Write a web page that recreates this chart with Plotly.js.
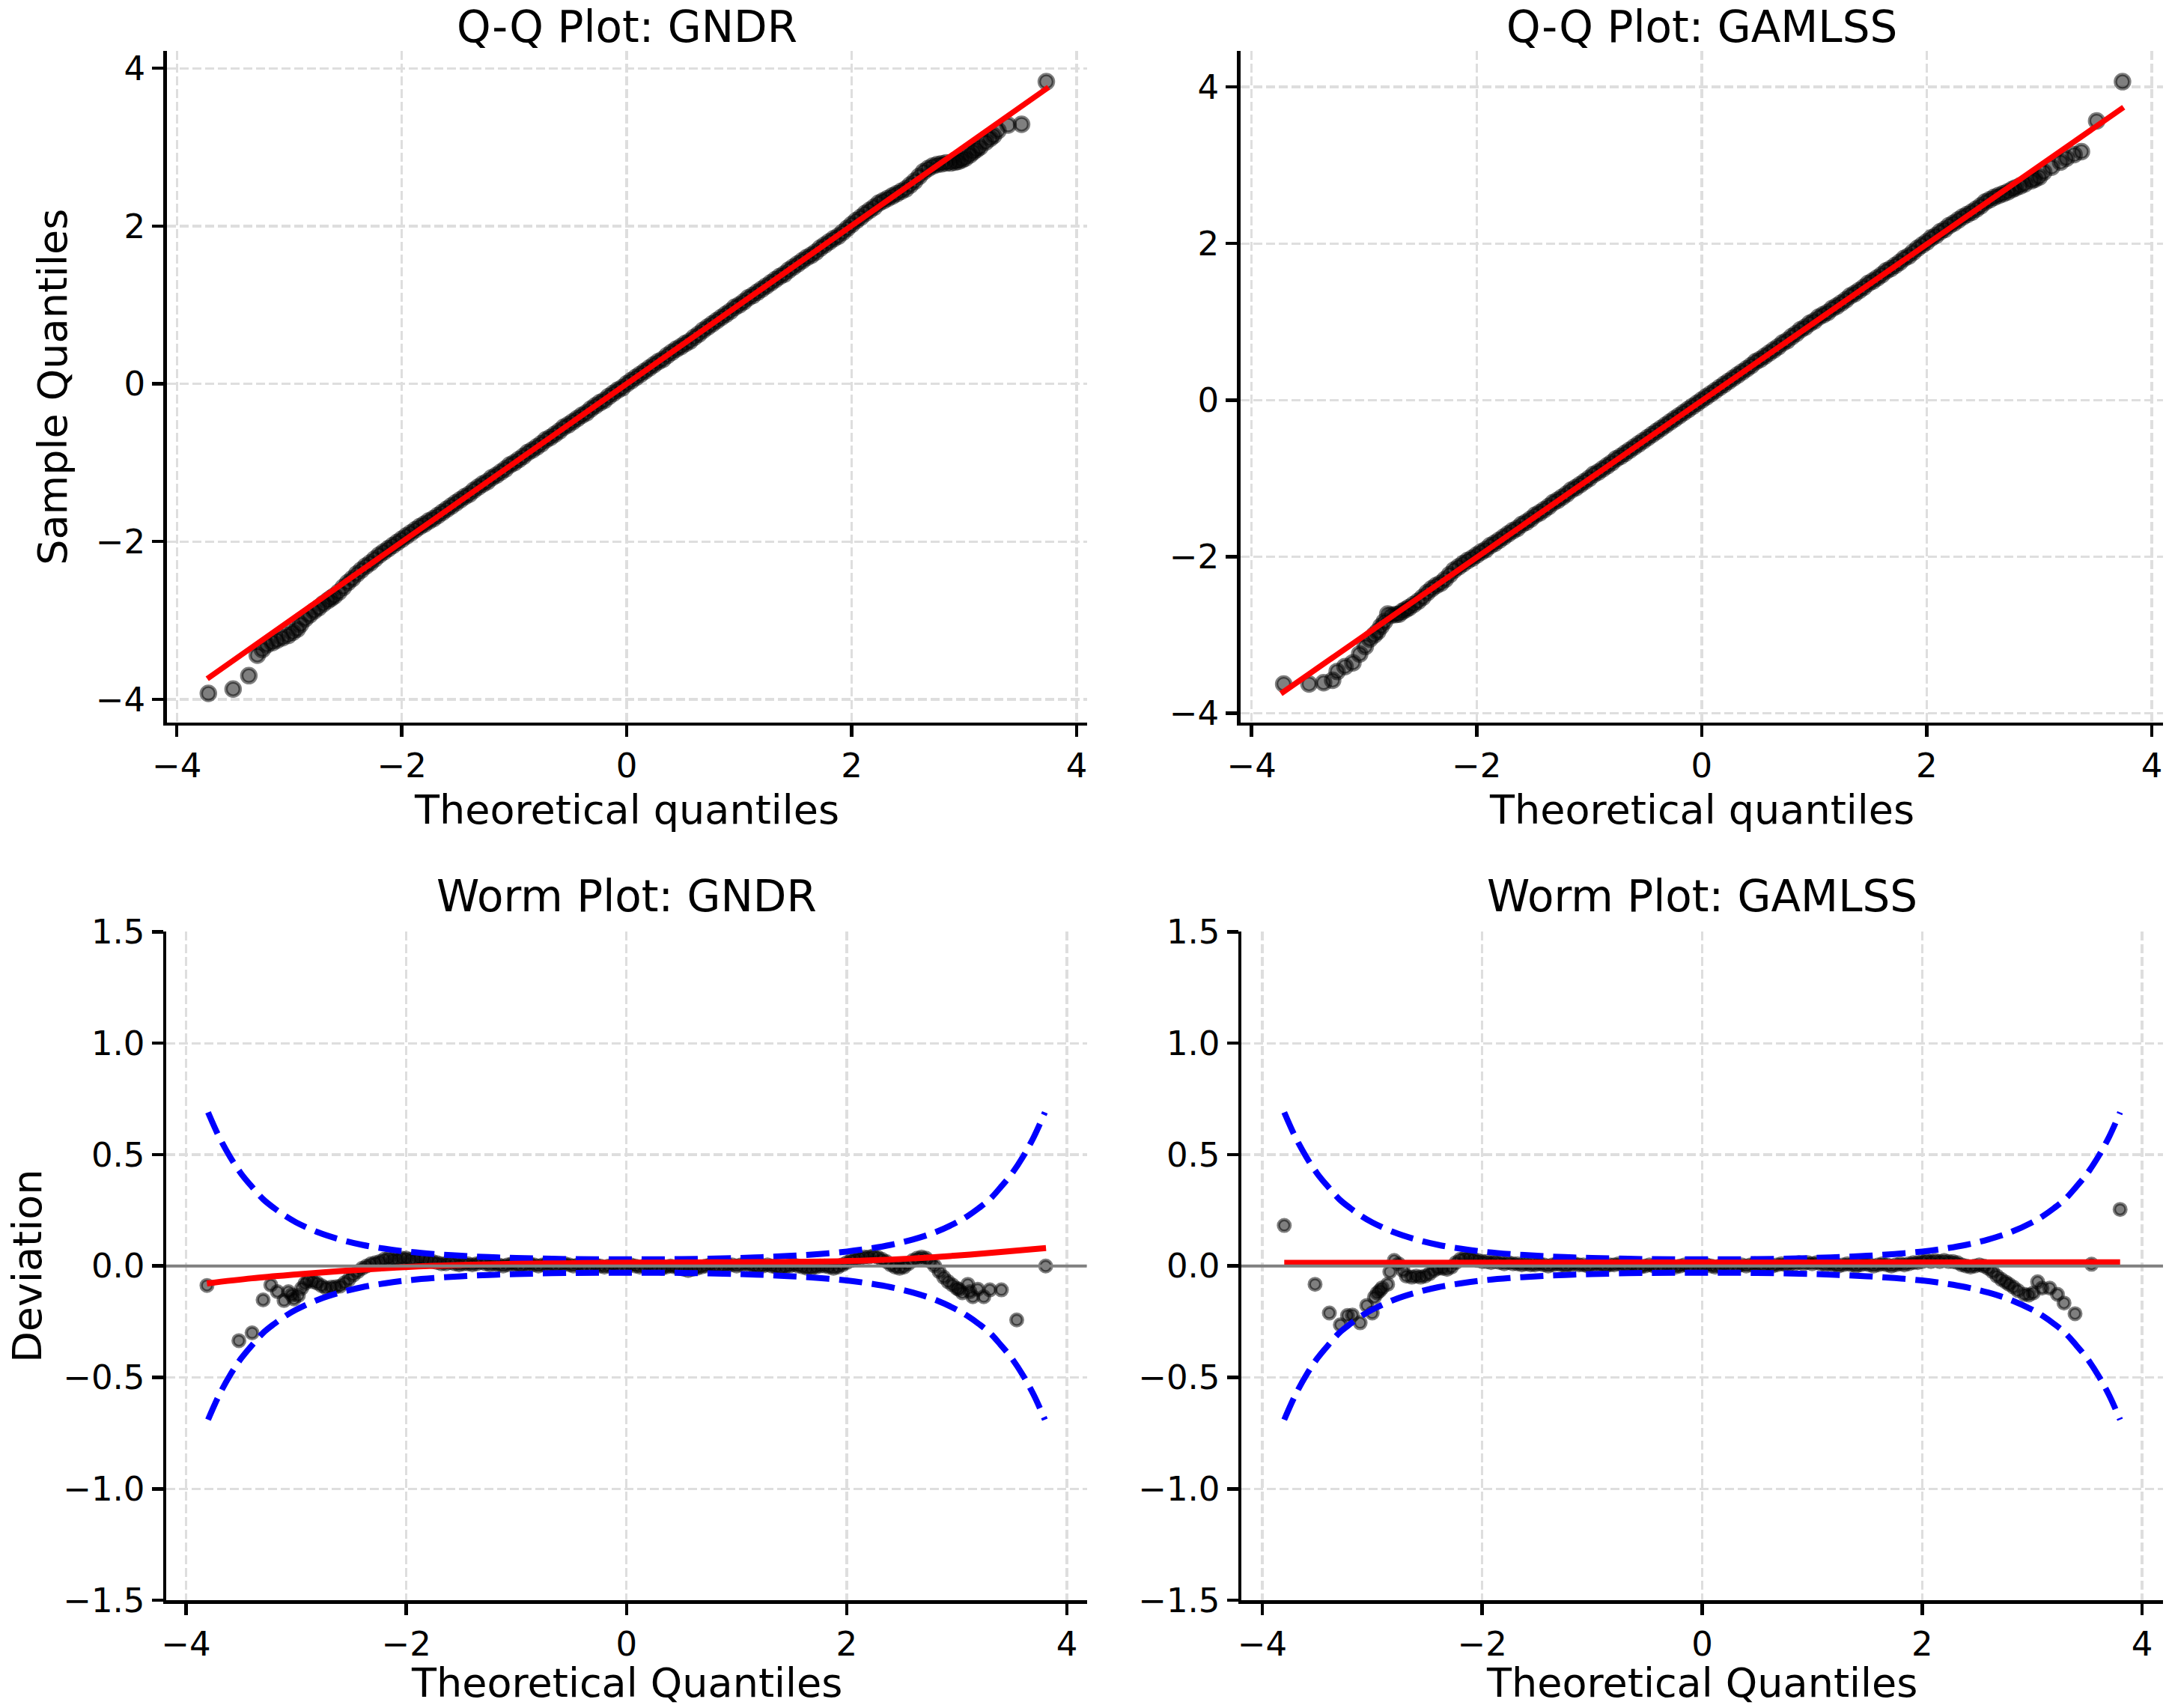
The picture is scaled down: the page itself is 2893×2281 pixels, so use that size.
<!DOCTYPE html>
<html>
<head>
<meta charset="utf-8">
<script src="https://cdn.plot.ly/plotly-3.0.1.min.js"></script>
<style>
  html, body { margin: 0; padding: 0; background: #fff; }
  #chart { width: 2893px; height: 2281px; }
</style>
</head>
<body>
<div id="chart"></div>
<script>
// Theoretical quantiles sampled through the dense central part of each plot
const bodyQ = [
  -2.60,-2.56,-2.52,-2.48,-2.44,-2.40,-2.36,-2.32,-2.28,-2.24,
  -2.20,-2.16,-2.12,-2.08,-2.04,-2.00,-1.96,-1.92,-1.88,-1.84,
  -1.80,-1.76,-1.72,-1.68,-1.64,-1.60,-1.56,-1.52,-1.48,-1.44,
  -1.40,-1.36,-1.32,-1.28,-1.24,-1.20,-1.16,-1.12,-1.08,-1.04,
  -1.00,-0.96,-0.92,-0.88,-0.84,-0.80,-0.76,-0.72,-0.68,-0.64,
  -0.60,-0.56,-0.52,-0.48,-0.44,-0.40,-0.36,-0.32,-0.28,-0.24,
  -0.20,-0.16,-0.12,-0.08,-0.04,0.00,0.04,0.08,0.12,0.16,
  0.20,0.24,0.28,0.32,0.36,0.40,0.44,0.48,0.52,0.56,
  0.60,0.64,0.68,0.72,0.76,0.80,0.84,0.88,0.92,0.96,
  1.00,1.04,1.08,1.12,1.16,1.20,1.24,1.28,1.32,1.36,
  1.40,1.44,1.48,1.52,1.56,1.60,1.64,1.68,1.72,1.76,
  1.80,1.84,1.88,1.92,1.96,2.00,2.04,2.08,2.12,2.16,
  2.20,2.24,2.28,2.32,2.36,2.40,2.44,2.48,2.52,2.56,
  2.60
];

// ---- Q-Q plot: GNDR ----
const qqGndrBodyY = [
  -2.69,-2.64,-2.58,-2.52,-2.47,-2.41,-2.36,-2.31,-2.27,-2.22,
  -2.17,-2.13,-2.09,-2.05,-2.01,-1.97,-1.93,-1.89,-1.85,-1.81,
  -1.78,-1.74,-1.71,-1.67,-1.63,-1.59,-1.55,-1.51,-1.47,-1.43,
  -1.40,-1.35,-1.31,-1.27,-1.24,-1.19,-1.16,-1.12,-1.08,-1.03,
  -1.00,-0.96,-0.92,-0.87,-0.84,-0.80,-0.76,-0.71,-0.68,-0.64,
  -0.60,-0.55,-0.52,-0.48,-0.44,-0.40,-0.37,-0.32,-0.28,-0.24,
  -0.21,-0.16,-0.12,-0.08,-0.05,0.00,0.04,0.08,0.12,0.16,
  0.20,0.24,0.28,0.31,0.36,0.40,0.44,0.47,0.51,0.54,
  0.59,0.63,0.68,0.72,0.76,0.80,0.84,0.88,0.92,0.97,
  1.00,1.04,1.09,1.12,1.16,1.20,1.24,1.28,1.32,1.36,
  1.39,1.44,1.48,1.52,1.56,1.60,1.63,1.67,1.72,1.76,
  1.80,1.84,1.87,1.92,1.97,2.02,2.07,2.11,2.16,2.20,
  2.24,2.29,2.32,2.35,2.38,2.41,2.44,2.47,2.52,2.57,
  2.63
];
const qqGndrLeftX  = [-3.72,-3.50,-3.36,-3.285,-3.24,-3.20,-3.15,-3.11,-3.06,-3.01,-2.97,-2.93,-2.90,-2.86,-2.82,-2.78,-2.74,-2.70,-2.66,-2.63];
const qqGndrLeftY  = [-3.925,-3.87,-3.70,-3.44,-3.37,-3.31,-3.28,-3.25,-3.22,-3.19,-3.15,-3.11,-3.05,-2.98,-2.93,-2.88,-2.84,-2.79,-2.75,-2.72];
const qqGndrRightX = [2.64,2.68,2.72,2.76,2.80,2.84,2.88,2.92,2.95,2.98,3.01,3.05,3.08,3.11,3.14,3.19,3.23,3.26,3.30,3.39,3.51,3.73];
const qqGndrRightY = [2.69,2.73,2.76,2.78,2.79,2.80,2.80,2.81,2.82,2.84,2.86,2.90,2.94,2.97,3.00,3.065,3.11,3.145,3.21,3.28,3.29,3.83];
const qqGndrLineX  = [-3.73, 3.75];
const qqGndrLineY  = [-3.74, 3.76];

// ---- Q-Q plot: GAMLSS ----
const qqGamlssBodyY = [
  -2.65,-2.61,-2.57,-2.52,-2.46,-2.41,-2.37,-2.34,-2.29,-2.23,
  -2.17,-2.13,-2.09,-2.05,-2.02,-1.98,-1.94,-1.91,-1.86,-1.83,
  -1.79,-1.75,-1.71,-1.67,-1.64,-1.59,-1.56,-1.52,-1.47,-1.44,
  -1.40,-1.36,-1.31,-1.28,-1.24,-1.20,-1.15,-1.12,-1.08,-1.04,
  -1.00,-0.95,-0.92,-0.88,-0.84,-0.80,-0.75,-0.72,-0.68,-0.64,
  -0.60,-0.56,-0.52,-0.48,-0.44,-0.40,-0.36,-0.32,-0.28,-0.24,
  -0.20,-0.16,-0.12,-0.08,-0.04,0.00,0.04,0.08,0.12,0.16,
  0.20,0.24,0.28,0.32,0.36,0.40,0.44,0.49,0.52,0.56,
  0.60,0.64,0.68,0.73,0.76,0.81,0.85,0.90,0.93,0.98,
  1.01,1.06,1.09,1.12,1.17,1.20,1.24,1.28,1.33,1.36,
  1.40,1.44,1.49,1.52,1.56,1.60,1.65,1.68,1.72,1.76,
  1.81,1.84,1.89,1.94,1.98,2.02,2.07,2.10,2.15,2.18,
  2.23,2.26,2.30,2.34,2.37,2.40,2.44,2.48,2.53,2.56,
  2.59
];
const qqGamlssLeftX  = [-3.715,-3.49,-3.36,-3.28,-3.24,-3.17,-3.10,-3.04,-2.99,-2.95,-2.91,-2.88,-2.85,-2.82,-2.79,-2.76,-2.72,-2.69,-2.66,-2.63];
const qqGamlssLeftY  = [-3.627,-3.627,-3.611,-3.579,-3.468,-3.404,-3.356,-3.244,-3.148,-3.053,-3.00,-2.957,-2.89,-2.83,-2.734,-2.75,-2.74,-2.735,-2.70,-2.675];
const qqGamlssRightX = [2.64,2.68,2.72,2.76,2.79,2.83,2.87,2.93,2.96,3.00,3.04,3.11,3.19,3.24,3.31,3.375,3.51,3.74];
const qqGamlssRightY = [2.615,2.635,2.66,2.69,2.71,2.735,2.76,2.80,2.82,2.848,2.912,2.976,3.039,3.087,3.135,3.173,3.566,4.067];
const qqGamlssLineX  = [-3.74, 3.75];
const qqGamlssLineY  = [-3.75, 3.74];

// ---- Worm plot: GNDR (deviation = sample - theoretical) ----
const wormGndrBodyY = [
  -0.09,-0.075,-0.06,-0.04,-0.025,-0.01,0.0,0.01,0.015,0.02,
  0.03,0.035,0.03,0.03,0.035,0.035,0.03,0.03,0.035,0.03,
  0.025,0.02,0.015,0.01,0.01,0.015,0.01,0.005,0.01,0.01,
  0.005,0.01,0.015,0.01,0.005,0.01,0.005,0.0,0.005,0.01,
  0.005,0.0,0.005,0.01,0.005,0.0,0.005,0.01,0.005,0.0,
  0.005,0.01,0.005,0.0,0.005,0.0,-0.005,0.0,0.005,0.0,
  -0.005,0.0,0.005,0.0,-0.005,0.0,0.005,0.0,-0.005,0.0,
  0.005,0.0,-0.005,-0.01,-0.005,0.0,-0.005,-0.01,-0.015,-0.02,
  -0.015,-0.01,-0.005,0.0,0.005,0.0,-0.005,0.0,0.005,0.005,
  0.0,0.005,0.01,0.005,0.0,-0.005,0.0,0.005,0.0,-0.005,
  -0.01,-0.005,0.0,0.005,0.0,-0.005,-0.01,-0.01,-0.005,0.0,
  0.0,-0.005,-0.01,-0.005,0.005,0.015,0.025,0.03,0.035,0.04,
  0.04,0.045,0.04,0.03,0.02,0.005,-0.005,-0.01,-0.005,0.01,
  0.025
];
const wormGndrLeftX  = [-3.81,-3.52,-3.40,-3.30,-3.23,-3.17,-3.11,-3.07,-3.04,-3.02,-2.98,-2.95,-2.92,-2.89,-2.85,-2.81,-2.77,-2.73,-2.68,-2.64];
const wormGndrLeftY  = [-0.087,-0.335,-0.30,-0.152,-0.085,-0.115,-0.155,-0.115,-0.13,-0.148,-0.132,-0.10,-0.078,-0.065,-0.07,-0.076,-0.088,-0.098,-0.095,-0.093];
const wormGndrRightX = [2.64,2.68,2.72,2.76,2.80,2.84,2.88,2.92,2.96,3.00,3.02,3.05,3.10,3.12,3.145,3.19,3.245,3.30,3.405,3.544,3.807];
const wormGndrRightY = [0.035,0.04,0.035,0.02,0.0,-0.025,-0.05,-0.07,-0.085,-0.10,-0.105,-0.12,-0.082,-0.115,-0.138,-0.104,-0.138,-0.107,-0.107,-0.242,0.0];
const wormGndrFitX = [-3.81,-3.4,-3.0,-2.6,-2.2,-1.8,-1.4,-1.0,-0.6,-0.2,0.2,0.6,1.0,1.4,1.8,2.2,2.6,3.0,3.4,3.81];
const wormGndrFitY = [-0.078,-0.055,-0.038,-0.023,-0.01,0.0,0.006,0.01,0.012,0.014,0.015,0.016,0.017,0.018,0.02,0.025,0.034,0.047,0.063,0.081];

// ---- Worm plot: GAMLSS ----
const wormGamlssBodyY = [
  -0.045,-0.05,-0.045,-0.035,-0.02,-0.01,-0.01,-0.015,-0.005,0.015,
  0.03,0.035,0.035,0.03,0.025,0.02,0.02,0.015,0.02,0.015,
  0.01,0.015,0.01,0.01,0.005,0.01,0.005,0.005,0.01,0.005,
  0.0,0.005,0.01,0.005,0.0,0.005,0.01,0.005,0.005,0.0,
  0.005,0.01,0.005,0.0,0.005,0.005,0.01,0.005,0.0,0.005,
  0.0,-0.005,0.0,0.005,0.0,-0.005,0.0,0.005,0.0,-0.005,
  0.0,0.005,0.0,-0.005,0.0,0.0,0.005,0.0,-0.005,0.0,
  0.005,0.0,-0.005,0.0,0.005,0.0,0.005,0.01,0.005,0.0,
  0.005,0.0,0.005,0.01,0.005,0.01,0.01,0.015,0.01,0.015,
  0.01,0.015,0.01,0.005,0.01,0.005,0.0,0.005,0.01,0.005,
  0.0,0.005,0.01,0.005,0.0,0.005,0.01,0.005,0.0,0.005,
  0.01,0.005,0.01,0.015,0.015,0.02,0.025,0.02,0.025,0.02,
  0.025,0.02,0.02,0.015,0.005,0.0,-0.005,0.0,0.005,0.0,
  -0.01
];
const wormGamlssLeftX  = [-3.80,-3.52,-3.39,-3.29,-3.225,-3.18,-3.11,-3.05,-3.00,-2.98,-2.955,-2.93,-2.91,-2.86,-2.84,-2.80,-2.76,-2.72,-2.69,-2.64];
const wormGamlssLeftY  = [0.182,-0.082,-0.211,-0.264,-0.222,-0.22,-0.255,-0.177,-0.211,-0.14,-0.121,-0.11,-0.098,-0.082,-0.026,0.025,0.01,-0.02,-0.045,-0.05];
const wormGamlssRightX = [2.64,2.68,2.72,2.76,2.79,2.83,2.87,2.93,2.97,3.01,3.05,3.09,3.16,3.23,3.29,3.39,3.54,3.80];
const wormGamlssRightY = [-0.025,-0.045,-0.06,-0.072,-0.082,-0.095,-0.11,-0.127,-0.13,-0.121,-0.071,-0.099,-0.099,-0.127,-0.166,-0.214,0.008,0.254];
const wormGamlssFitX = [-3.80, 0.0, 3.80];
const wormGamlssFitY = [0.014, 0.015, 0.017];

// 95% confidence band of the worm plots
const bandX = [-3.8,-3.7,-3.6,-3.5,-3.4,-3.3,-3.2,-3.1,-3.0,-2.8,-2.6,-2.4,-2.2,-2.0,-1.75,-1.5,-1.25,-1.0,-0.5,0.0,
               0.5,1.0,1.25,1.5,1.75,2.0,2.2,2.4,2.6,2.8,3.0,3.1,3.2,3.3,3.4,3.5,3.6,3.7,3.8];
const bandUpper = [0.69,0.58,0.49,0.415,0.355,0.30,0.26,0.225,0.196,0.151,0.119,0.095,0.078,0.065,0.054,0.046,0.040,0.036,0.031,0.030,
                   0.031,0.036,0.040,0.046,0.054,0.065,0.078,0.095,0.119,0.151,0.196,0.225,0.26,0.30,0.355,0.415,0.49,0.58,0.69];
const bandLower = [-0.69,-0.58,-0.49,-0.415,-0.355,-0.30,-0.26,-0.225,-0.196,-0.151,-0.119,-0.095,-0.078,-0.065,-0.054,-0.046,-0.040,-0.036,-0.031,-0.030,
                   -0.031,-0.036,-0.040,-0.046,-0.054,-0.065,-0.078,-0.095,-0.119,-0.151,-0.196,-0.225,-0.26,-0.30,-0.355,-0.415,-0.49,-0.58,-0.69];

// Tick positions and labels
const xTicks = [-4, -2, 0, 2, 4];
const xTickText = ['\u22124', '\u22122', '0', '2', '4'];
const qqYTicks = [-4, -2, 0, 2, 4];
const qqYTickText = ['\u22124', '\u22122', '0', '2', '4'];
const wormYTicks = [-1.5, -1.0, -0.5, 0.0, 0.5, 1.0, 1.5];
const wormYTickText = ['\u22121.5', '\u22121.0', '\u22120.5', '0.0', '0.5', '1.0', '1.5'];

const FONT = 'DejaVu Sans';

function pointsTrace(x, y, xa, ya, size) {
  return {
    type: 'scatter', mode: 'markers', x: x, y: y, xaxis: xa, yaxis: ya,
    marker: { size: size, color: 'rgba(0,0,0,0.5)', line: { color: 'rgba(0,0,0,0.5)', width: 4.5 } },
    hoverinfo: 'skip', cliponaxis: true
  };
}
function lineTrace(x, y, xa, ya, color, width, dash, shape) {
  return {
    type: 'scatter', mode: 'lines', x: x, y: y, xaxis: xa, yaxis: ya,
    line: { color: color, width: width, dash: dash || 'solid', shape: shape || 'linear', smoothing: 1 },
    hoverinfo: 'skip'
  };
}

const traces = [
  // Q-Q GNDR
  pointsTrace(qqGndrLeftX.concat(bodyQ, qqGndrRightX), qqGndrLeftY.concat(qqGndrBodyY, qqGndrRightY), 'x', 'y', 19),
  lineTrace(qqGndrLineX, qqGndrLineY, 'x', 'y', '#ff0000', 7.5),
  // Q-Q GAMLSS
  pointsTrace(qqGamlssLeftX.concat(bodyQ, qqGamlssRightX), qqGamlssLeftY.concat(qqGamlssBodyY, qqGamlssRightY), 'x2', 'y2', 19),
  lineTrace(qqGamlssLineX, qqGamlssLineY, 'x2', 'y2', '#ff0000', 7.5),
  // Worm GNDR
  pointsTrace(wormGndrLeftX.concat(bodyQ, wormGndrRightX), wormGndrLeftY.concat(wormGndrBodyY, wormGndrRightY), 'x3', 'y3', 15.5),
  lineTrace(bandX, bandUpper, 'x3', 'y3', '#0000ff', 8, '31px,13px', 'spline'),
  lineTrace(bandX, bandLower, 'x3', 'y3', '#0000ff', 8, '31px,13px', 'spline'),
  lineTrace(wormGndrFitX, wormGndrFitY, 'x3', 'y3', '#ff0000', 8, 'solid', 'spline'),
  // Worm GAMLSS
  pointsTrace(wormGamlssLeftX.concat(bodyQ, wormGamlssRightX), wormGamlssLeftY.concat(wormGamlssBodyY, wormGamlssRightY), 'x4', 'y4', 15.5),
  lineTrace(bandX, bandUpper, 'x4', 'y4', '#0000ff', 8, '31px,13px', 'spline'),
  lineTrace(bandX, bandLower, 'x4', 'y4', '#0000ff', 8, '31px,13px', 'spline'),
  lineTrace(wormGamlssFitX, wormGamlssFitY, 'x4', 'y4', '#ff0000', 8, 'solid', 'linear')
];

function axis(domain, range, tickvals, ticktext, anchor) {
  return {
    domain: domain, range: range, anchor: anchor,
    tickmode: 'array', tickvals: tickvals, ticktext: ticktext,
    showline: true, linecolor: '#000', linewidth: 4.5, mirror: false,
    ticks: 'outside', ticklen: 15, tickwidth: 4.5, tickcolor: '#000',
    showgrid: true, gridcolor: '#dedede', gridwidth: 3.3, griddash: '12px,5px',
    zeroline: false, fixedrange: true,
    tickfont: { family: FONT, size: 45, color: '#000' }
  };
}

function label(text, x, y, size, angle) {
  return {
    text: text, x: x, y: y, xref: 'paper', yref: 'paper',
    xanchor: 'center', yanchor: 'middle', showarrow: false, textangle: angle || 0,
    font: { family: FONT, size: size, color: '#000' }
  };
}

const layout = {
  width: 2893, height: 2281,
  margin: { l: 0, r: 0, t: 0, b: 0, pad: 0 },
  paper_bgcolor: '#fff', plot_bgcolor: '#fff',
  showlegend: false,
  xaxis:  axis([0.07698, 0.50176], [-4.09, 4.09], xTicks, xTickText, 'y'),
  yaxis:  axis([0.57694, 0.97019], [-4.295, 4.22], qqYTicks, qqYTickText, 'x'),
  xaxis2: axis([0.57266, 0.99862], [-4.10, 4.10], xTicks, xTickText, 'y2'),
  yaxis2: axis([0.57694, 0.97019], [-4.12, 4.46], qqYTicks, qqYTickText, 'x2'),
  xaxis3: axis([0.07674, 0.50173], [-4.18, 4.18], xTicks, xTickText, 'y3'),
  yaxis3: axis([0.06313, 0.45441], [-1.5, 1.5], wormYTicks, wormYTickText, 'x3'),
  xaxis4: axis([0.57311, 0.99862], [-4.19, 4.19], xTicks, xTickText, 'y4'),
  yaxis4: axis([0.06313, 0.45441], [-1.5, 1.5], wormYTicks, wormYTickText, 'x4'),
  shapes: [
    { type: 'line', xref: 'x3 domain', yref: 'y3', x0: 0, x1: 1, y0: 0, y1: 0, line: { color: '#808080', width: 4 }, layer: 'above' },
    { type: 'line', xref: 'x4 domain', yref: 'y4', x0: 0, x1: 1, y0: 0, y1: 0, line: { color: '#808080', width: 4 }, layer: 'above' }
  ],
  annotations: [
    label('Q-Q Plot: GNDR', 0.28932, 0.98422, 58),
    label('Q-Q Plot: GAMLSS', 0.78564, 0.98422, 58),
    label('Worm Plot: GNDR', 0.28923, 0.47523, 58),
    label('Worm Plot: GAMLSS', 0.78586, 0.47523, 58),
    label('Theoretical quantiles', 0.28932, 0.52595, 54),
    label('Theoretical quantiles', 0.78564, 0.52595, 54),
    label('Theoretical Quantiles', 0.28923, 0.0149, 54),
    label('Theoretical Quantiles', 0.78586, 0.0149, 54),
    label('Sample Quantiles', 0.0243, 0.77357, 54, -90),
    label('Deviation', 0.0128, 0.25877, 54, -90)
  ]
};

Plotly.newPlot('chart', traces, layout, { staticPlot: true, displayModeBar: false });
</script>
</body>
</html>
